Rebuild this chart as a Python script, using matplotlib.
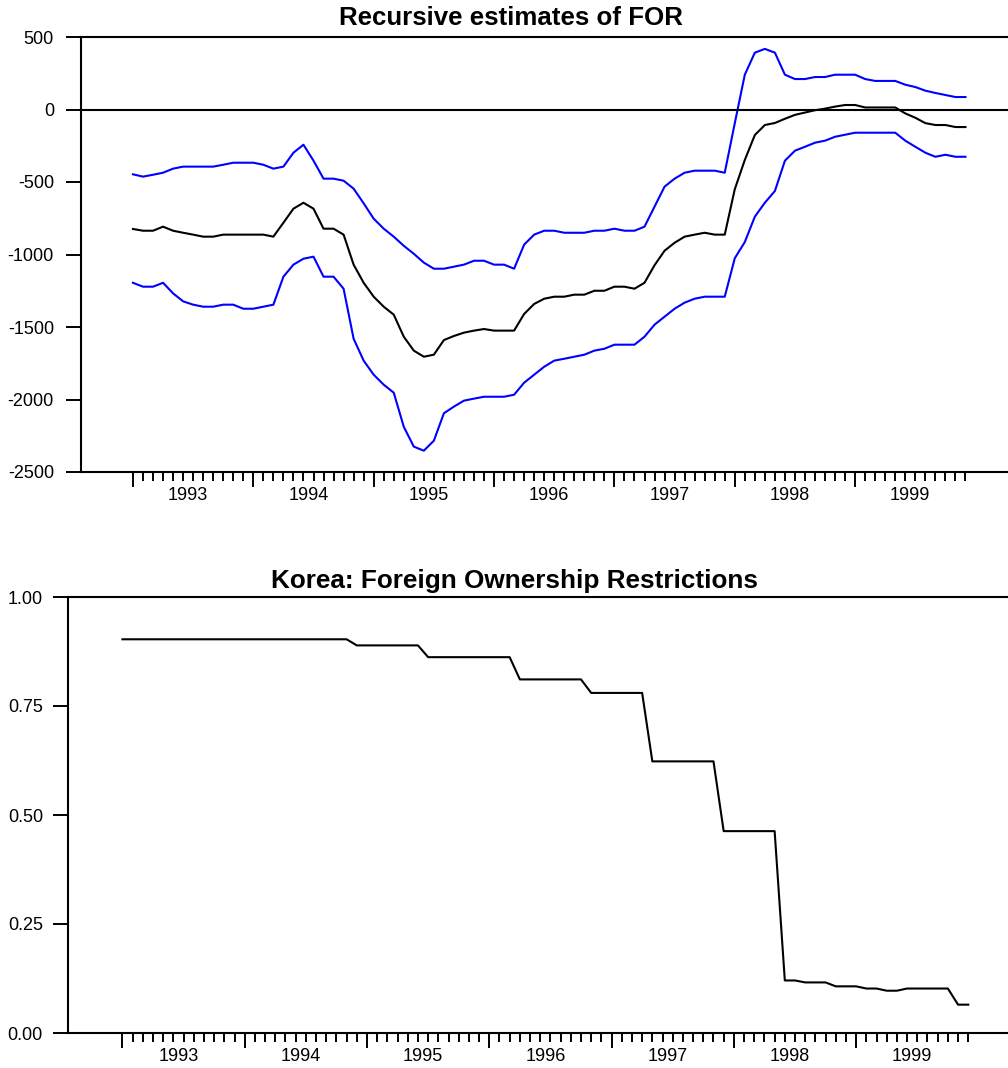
import matplotlib
matplotlib.use("Agg")
import matplotlib.pyplot as plt
import numpy as np

plt.rcParams['font.family'] = ['Liberation Sans', 'DejaVu Sans']
plt.rcParams['axes.unicode_minus'] = False

# monthly observations, Jan 1993 .. Dec 1999 (84 months)
years = [1993, 1994, 1995, 1996, 1997, 1998, 1999]
n_months = 84

# recursive estimate of the FOR coefficient and its upper / lower band
for_upper = [-447, -463, -450, -436, -408, -394, -394, -394, -394, -381, -367, -367,
             -367, -381, -408, -394, -298, -243, -353, -477, -477, -491, -546, -647,
             -753, -822, -877, -940, -995, -1056, -1098, -1098, -1084, -1070, -1043, -1043,
             -1070, -1070, -1098, -932, -863, -836, -836, -850, -850, -850, -836, -836,
             -822, -836, -836, -808, -670, -532, -477, -436, -422, -422, -422, -436,
             -95, 240, 392, 418, 392, 240, 210, 210, 224, 224, 240, 240,
             240, 210, 197, 197, 197, 171, 155, 130, 114, 100, 86, 86]
for_est = [-824, -836, -836, -808, -836, -850, -863, -877, -877, -863, -863, -863,
           -863, -863, -877, -781, -684, -643, -684, -822, -822, -863, -1070, -1195,
           -1291, -1360, -1415, -1567, -1663, -1705, -1691, -1590, -1562, -1539, -1525, -1514,
           -1525, -1525, -1525, -1410, -1341, -1305, -1291, -1291, -1277, -1277, -1250, -1250,
           -1222, -1222, -1236, -1195, -1074, -974, -919, -877, -863, -850, -863, -863,
           -550, -348, -176, -107, -93, -64, -37, -21, -5, 6, 20, 31,
           31, 14, 14, 14, 14, -27, -57, -94, -107, -107, -121, -121]
for_lower = [-1195, -1222, -1222, -1195, -1268, -1323, -1346, -1360, -1360, -1346, -1346, -1374,
             -1374, -1360, -1346, -1153, -1070, -1029, -1015, -1153, -1153, -1236, -1581, -1732,
             -1829, -1898, -1953, -2188, -2325, -2353, -2284, -2095, -2049, -2008, -1994, -1981,
             -1981, -1981, -1967, -1884, -1829, -1774, -1732, -1719, -1705, -1691, -1663, -1650,
             -1622, -1622, -1622, -1567, -1484, -1429, -1374, -1332, -1305, -1291, -1291, -1291,
             -1026, -914, -739, -643, -562, -353, -284, -257, -229, -215, -188, -174,
             -160, -160, -160, -160, -160, -215, -257, -298, -326, -312, -326, -326]

# Korea foreign ownership restriction index
korea_for = [0.903, 0.903, 0.903, 0.903, 0.903, 0.903, 0.903, 0.903, 0.903, 0.903, 0.903, 0.903,
             0.903, 0.903, 0.903, 0.903, 0.903, 0.903, 0.903, 0.903, 0.903, 0.903, 0.903, 0.889,
             0.889, 0.889, 0.889, 0.889, 0.889, 0.889, 0.862, 0.862, 0.862, 0.862, 0.862, 0.862,
             0.862, 0.862, 0.862, 0.811, 0.811, 0.811, 0.811, 0.811, 0.811, 0.811, 0.780, 0.780,
             0.780, 0.780, 0.780, 0.780, 0.623, 0.623, 0.623, 0.623, 0.623, 0.623, 0.623, 0.463,
             0.463, 0.463, 0.463, 0.463, 0.463, 0.1205, 0.1205, 0.116, 0.116, 0.116, 0.107, 0.107,
             0.107, 0.102, 0.102, 0.097, 0.097, 0.102, 0.102, 0.102, 0.102, 0.102, 0.065, 0.065]

top_yticks = [500, 0, -500, -1000, -1500, -2000, -2500]
bot_yticks = [1.00, 0.75, 0.50, 0.25, 0.00]

months = np.arange(n_months)
year_starts = [12 * k for k in range(len(years))]
year_mids = [12 * k + 5.5 for k in range(len(years))]

W, H = 1008, 1068
fig = plt.figure(figsize=(W / 100, H / 100), dpi=100)

spine_lw = 1.5
line_lw = 1.5


def style_axes(ax, ypad):
    for s in ['top', 'left', 'bottom']:
        ax.spines[s].set_linewidth(spine_lw)
    ax.spines['right'].set_visible(False)
    ax.set_xticks(year_starts)
    ax.set_xticks(months, minor=True)
    ax.tick_params(axis='x', which='major', direction='out', length=11, width=1.4, labelbottom=False)
    ax.tick_params(axis='x', which='minor', direction='out', length=6.5, width=1.4)
    ax.tick_params(axis='y', direction='out', length=11, width=1.4, pad=ypad, labelsize=13)
    sec = ax.secondary_xaxis('bottom')
    sec.set_xticks(year_mids, [str(y) for y in years])
    sec.tick_params(length=0, pad=11, labelsize=13)
    sec.spines['bottom'].set_visible(False)


# ---- top panel
ax1 = fig.add_axes([81 / W, 1 - 472 / H, 1 - 81 / W, (472 - 37) / H])
ax1.plot(months, for_upper, color='#0000ff', lw=line_lw)
ax1.plot(months, for_lower, color='#0000ff', lw=line_lw)
ax1.plot(months, for_est, color='black', lw=line_lw)
ax1.axhline(0, color='black', lw=spine_lw)
ax1.set_ylim(-2500, 500)
ax1.set_xlim(-5.18, 87.24)
ax1.set_yticks(top_yticks)
ax1.set_yticklabels([str(v) for v in top_yticks])
style_axes(ax1, 8.5)
fig.text(511 / W, 1 - 25 / H, 'Recursive estimates of FOR', ha='center', va='baseline',
         fontsize=18.6, fontweight='bold')

# ---- bottom panel
ax2 = fig.add_axes([68 / W, 1 - 1033 / H, 1 - 68 / W, (1033 - 597) / H])
ax2.plot(months, korea_for, color='black', lw=line_lw)
ax2.set_ylim(0, 1)
ax2.set_xlim(-5.34, 86.9)
ax2.set_yticks(bot_yticks)
ax2.set_yticklabels(['%.2f' % v for v in bot_yticks])
style_axes(ax2, 7)
fig.text(514.5 / W, 1 - 587.7 / H, 'Korea: Foreign Ownership Restrictions', ha='center',
         va='baseline', fontsize=18.8, fontweight='bold')

fig.savefig('out.png', dpi=100)
